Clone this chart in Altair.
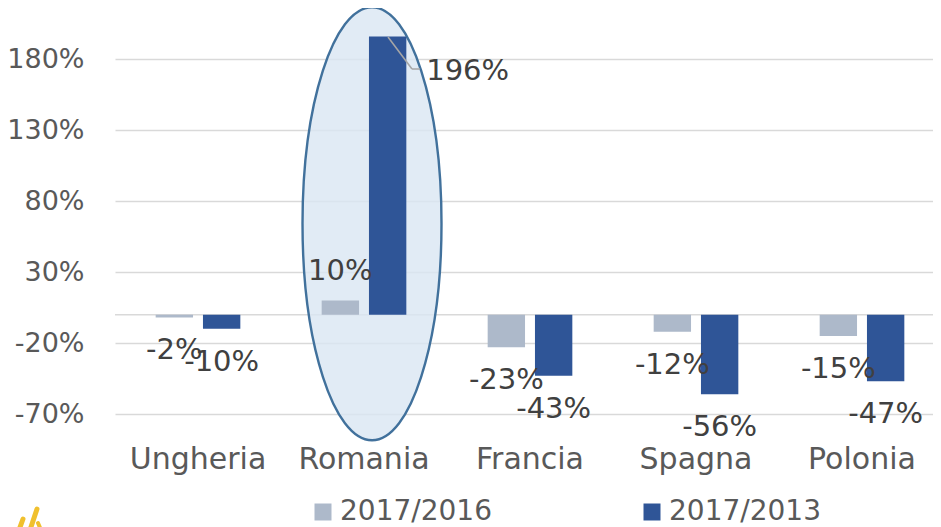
import altair as alt
import pandas as pd

FONT = "DejaVu Sans"

countries = ["Ungheria", "Romania", "Francia", "Spagna", "Polonia"]
series = ["2017/2016", "2017/2013"]
v_2016 = [-2, 10, -23, -12, -15]
v_2013 = [-10, 196, -43, -56, -47]
y_ticks = [-70, -20, 30, 80, 130, 180]
colors = ["#ADB9CA", "#2F5597"]

rows = []
for c, a, b in zip(countries, v_2016, v_2013):
    rows.append({"country": c, "series": series[0], "value": a})
    rows.append({"country": c, "series": series[1], "value": b})
df = pd.DataFrame(rows)

# highlighted category (ellipse annotation)
highlight = pd.DataFrame({"country": ["Romania"], "value": [64]})

x_scale = alt.Scale(range=[0, 830], paddingInner=0.49, paddingOuter=0.245)
x_enc = alt.X(
    "country:N", sort=countries, scale=x_scale,
    axis=alt.Axis(title=None, labelFontSize=30, labelColor="#595959", labelFont=FONT,
                  ticks=False, domain=False, labelPadding=30, labelAngle=0,
                  labelAlign="center", labelBaseline="top", grid=False),
)
y_scale = alt.Scale(domain=[-70, 216], nice=False, zero=False)
y_enc = alt.Y(
    "value:Q", scale=y_scale,
    axis=alt.Axis(values=y_ticks, labelExpr="datum.value + '%'", title=None, ticks=False,
                  domain=False, gridColor="#D9D9D9", gridWidth=1.5, labelFontSize=27,
                  labelFont=FONT, labelColor="#595959", labelPadding=31),
)
xoff = alt.XOffset("series:N", sort=series, scale=alt.Scale(paddingInner=0.21, paddingOuter=0))

base = alt.Chart(df)

zero = alt.Chart(pd.DataFrame({"v": [0]})).mark_rule(color="#D9D9D9", strokeWidth=1.5).encode(
    y=alt.Y("v:Q", scale=y_scale)
)

ellipse_path = "M -0.284,0 A 0.321,1 0 1,0 0.358,0 A 0.321,1 0 1,0 -0.284,0 Z"
ellipse = alt.Chart(highlight).mark_point(
    shape=ellipse_path, filled=True, fill="#DAE6F3", fillOpacity=0.8,
    stroke="#41719C", strokeWidth=2.4, strokeOpacity=1,
).encode(x=alt.X("country:N", sort=countries, scale=x_scale), y=alt.Y("value:Q", scale=y_scale),
         size=alt.value(187489))

bars = base.mark_bar().encode(
    x=x_enc, y=y_enc, xOffset=xoff,
    color=alt.Color(
        "series:N", sort=series, scale=alt.Scale(domain=series, range=colors),
        legend=alt.Legend(orient="none", legendX=194, legendY=490, direction="horizontal",
                          title=None, symbolType="square", symbolSize=289, symbolStrokeWidth=0,
                          labelFontSize=28, labelFont=FONT, labelColor="#595959",
                          labelOffset=3, columnPadding=146),
    ),
)

text_kw = dict(fontSize=29, font=FONT, color="#404040", baseline="middle", align="center")


def labels(flt, **kw):
    return base.transform_filter(flt).transform_calculate(label="datum.value + '%'").mark_text(
        **text_kw, **kw).encode(
        x=alt.X("country:N", sort=countries, scale=x_scale), xOffset=xoff,
        y=alt.Y("value:Q", scale=y_scale), text=alt.Text("label:N"))


lab_neg = labels("datum.value < 0", dy=33)
lab_pos = labels("datum.value >= 0 && datum.value < 100", dy=-29)
lab_big = labels("datum.value >= 100", dx=80, dy=35)

one = pd.DataFrame({"a": [0]})


def seg(x1, y1, x2, y2, color, width, cap="butt"):
    return alt.Chart(one).mark_rule(color=color, strokeWidth=width, strokeCap=cap).encode(
        x=alt.value(x1), y=alt.value(y1), x2=alt.value(x2), y2=alt.value(y2))


# leader line of the 196% label
lead1 = seg(273, 29, 297, 61, "#A6A6A6", 1.5)
lead2 = seg(297, 61, 305, 61, "#A6A6A6", 1.5)

# fragment of the logo at the bottom-left corner
logo1 = seg(-78, 501, -85, 522, "#F0C02E", 5, "round")
logo2 = seg(-92, 511, -96, 522, "#F0C02E", 5, "round")
logo3 = seg(-77, 515, -74, 522, "#F0C02E", 4, "round")

chart = alt.layer(zero, ellipse, bars, lab_neg, lab_pos, lab_big, lead1, lead2,
                  logo1, logo2, logo3).properties(
    width=818, height=406,
    autosize=alt.AutoSizeParams(type="none"),
    padding={"left": 107, "top": 0, "right": 0, "bottom": 113},
    background="white",
).configure_view(stroke=None)

chart.save("out.html", embed_options={"renderer": "svg", "actions": False})
